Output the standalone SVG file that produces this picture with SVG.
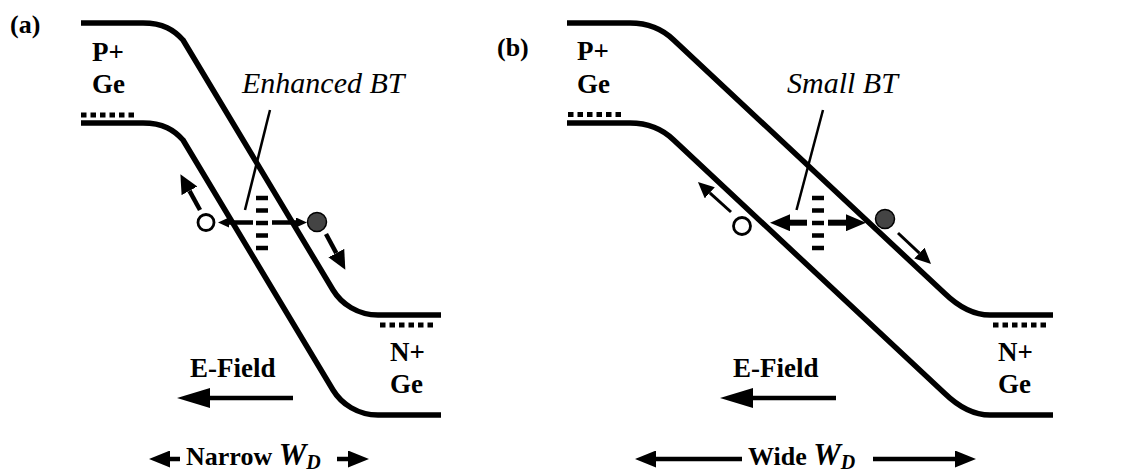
<svg xmlns="http://www.w3.org/2000/svg" width="1124" height="473" viewBox="0 0 1124 473">
<style>
.band{fill:none;stroke:#000;stroke-width:5.5}
.fermi{fill:none;stroke:#000;stroke-width:5;stroke-dasharray:5.5 4}
.trap{stroke:#000;stroke-width:4.5}
.shaft{stroke:#000;stroke-width:4.5;fill:none}
.thin{stroke:#000;stroke-width:3;fill:none}
.call{stroke:#000;stroke-width:2.5}
.hole{fill:#fff;stroke:#000;stroke-width:2.8}
.elec{fill:#444;stroke:#000;stroke-width:1.5}
.lbl{font-family:"Liberation Serif",serif;font-weight:bold;font-size:27px;fill:#000}
.it{font-family:"Liberation Serif",serif;font-style:italic;font-size:30px;fill:#000}
.wd{font-size:26px}
.wv{font-style:italic;font-size:31px}
.ws{font-style:italic;font-size:20px}
</style>
<defs>
<marker id="arrE" viewBox="0 0 33 20" markerWidth="33" markerHeight="20" refX="0" refY="10" orient="auto" markerUnits="userSpaceOnUse"><path d="M0,0 L33,10 L0,20 z"/></marker>
<marker id="arrW" viewBox="0 0 21 17" markerWidth="21" markerHeight="17" refX="0" refY="8.5" orient="auto" markerUnits="userSpaceOnUse"><path d="M0,0 L21,8.5 L0,17 z"/></marker>
<marker id="arrM" viewBox="0 0 19 18" markerWidth="19" markerHeight="18" refX="0" refY="9" orient="auto" markerUnits="userSpaceOnUse"><path d="M0,0 L19,9 L0,18 z"/></marker>
<marker id="arrS" viewBox="0 0 11 10" markerWidth="11" markerHeight="10" refX="0" refY="5" orient="auto" markerUnits="userSpaceOnUse"><path d="M0,0 L11,5 L0,10 z"/></marker>
<marker id="arrT" viewBox="0 0 20 17" markerWidth="20" markerHeight="17" refX="0" refY="8.5" orient="auto" markerUnits="userSpaceOnUse"><path d="M0,0 L20,8.5 L0,17 z"/></marker>
<marker id="arrH" viewBox="0 0 16 15" markerWidth="16" markerHeight="15" refX="0" refY="7.5" orient="auto" markerUnits="userSpaceOnUse"><path d="M0,0 L16,7.5 L0,15 z"/></marker>
</defs>
<rect width="1124" height="473" fill="#fff"/>

<g id="panel-a">
  <text id="label-a" class="lbl" x="10" y="33" style="font-size:26px">(a)</text>
  <g id="band-a">
    <path id="cb-a" class="band" d="M81,23 H143 C163,23 174,30 183,40 L333,290 C341.4,304 358,315 378,315 H441"/>
    <path id="vb-a" class="band" d="M81,123 H143 C163,123 174,130 183,140 L333,390 C341.4,404 358,415 378,415 H441"/>
    <line class="fermi" x1="81" y1="115" x2="137" y2="115"/>
    <line class="fermi" x1="380" y1="325" x2="436" y2="325"/>
  </g>
  <g id="pside-a"><text class="lbl" x="92" y="61">P+</text><text class="lbl" x="92" y="93">Ge</text></g>
  <g id="nside-a"><text class="lbl" x="390" y="361">N+</text><text class="lbl" x="390" y="393">Ge</text></g>
  <g id="bt-a"><text class="it" x="242" y="93">Enhanced BT</text></g>
  <g id="traps-a">
    <line class="trap" x1="256" y1="198" x2="268" y2="198"/>
    <line class="trap" x1="256" y1="210.5" x2="268" y2="210.5"/>
    <line class="trap" x1="256" y1="223" x2="268" y2="223"/>
    <line class="trap" x1="256" y1="235.5" x2="268" y2="235.5"/>
    <line class="trap" x1="256" y1="248" x2="268" y2="248"/>
  </g>
  <circle id="hole-a" class="hole" cx="206" cy="222.5" r="8"/>
  <circle id="elec-a" class="elec" cx="317" cy="222" r="9.5"/>
  <g id="efield-a"><text class="lbl" x="190" y="377">E-Field</text></g>
  <g id="wd-a"><text class="lbl wd" x="186" y="465">Narrow <tspan class="wv">W</tspan><tspan class="ws" dy="4">D</tspan></text></g>
</g>

<g id="panel-b">
  <text id="label-b" class="lbl" x="497" y="56" style="font-size:26px">(b)</text>
  <g id="band-b">
    <path id="cb-b" class="band" d="M567,23 H630 C650,23 663.4,30 673.7,40 L944.3,293 C957.7,306 972,315 990,315 H1053"/>
    <path id="vb-b" class="band" d="M567,123 H630 C650,123 663.4,130 673.7,140 L944.3,393 C957.7,406 972,415 990,415 H1053"/>
    <line class="fermi" x1="568" y1="114.5" x2="624" y2="114.5"/>
    <line class="fermi" x1="993" y1="325" x2="1049" y2="325"/>
  </g>
  <g id="pside-b"><text class="lbl" x="577" y="60">P+</text><text class="lbl" x="577" y="93">Ge</text></g>
  <g id="nside-b"><text class="lbl" x="998" y="361">N+</text><text class="lbl" x="998" y="393">Ge</text></g>
  <g id="bt-b"><text class="it" x="787" y="93">Small BT</text></g>
  <g id="traps-b">
    <line class="trap" x1="812" y1="198" x2="824" y2="198"/>
    <line class="trap" x1="812" y1="210.5" x2="824" y2="210.5"/>
    <line class="trap" x1="812" y1="223" x2="824" y2="223"/>
    <line class="trap" x1="812" y1="235.5" x2="824" y2="235.5"/>
    <line class="trap" x1="812" y1="248" x2="824" y2="248"/>
  </g>
  <circle id="hole-b" class="hole" cx="742" cy="226" r="8.5"/>
  <circle id="elec-b" class="elec" cx="885" cy="219" r="9.5"/>
  <g id="efield-b"><text class="lbl" x="733" y="377">E-Field</text></g>
  <g id="wd-b"><text class="lbl wd" x="748" y="465">Wide <tspan class="wv">W</tspan><tspan class="ws" dy="4">D</tspan></text></g>
</g>

<g id="connectors">
  <line class="call" x1="270" y1="110" x2="245" y2="210"/>
  <line class="call" x1="823" y1="110" x2="796.5" y2="210"/>
  <line class="shaft" x1="200" y1="210" x2="189.5" y2="190.8" marker-end="url(#arrM)"/>
  <line class="shaft" x1="326" y1="234" x2="336.3" y2="253.1" marker-end="url(#arrM)"/>
  <line class="shaft" x1="253" y1="222.5" x2="229" y2="222.5" marker-end="url(#arrS)"/>
  <line class="shaft" x1="272" y1="222.5" x2="296" y2="222.5" marker-end="url(#arrS)"/>
  <line class="shaft" x1="293" y1="398" x2="210" y2="398" marker-end="url(#arrE)"/>
  <line class="shaft" x1="180" y1="459" x2="170" y2="459" marker-end="url(#arrW)"/>
  <line class="shaft" x1="337" y1="459" x2="348" y2="459" marker-end="url(#arrW)"/>
  <line class="thin" x1="731" y1="212" x2="709.8" y2="192.8" marker-end="url(#arrH)"/>
  <line class="thin" x1="898" y1="233" x2="919.4" y2="253.1" marker-end="url(#arrH)"/>
  <line class="shaft" x1="807" y1="222.7" x2="790" y2="222.7" style="stroke-width:6" marker-end="url(#arrT)"/>
  <line class="shaft" x1="828" y1="222.7" x2="846" y2="222.7" style="stroke-width:6" marker-end="url(#arrT)"/>
  <line class="shaft" x1="836" y1="398" x2="753" y2="398" marker-end="url(#arrE)"/>
  <line class="shaft" x1="742" y1="459" x2="656" y2="459" marker-end="url(#arrW)"/>
  <line class="shaft" x1="873" y1="459" x2="955" y2="459" marker-end="url(#arrW)"/>
</g>
</svg>
